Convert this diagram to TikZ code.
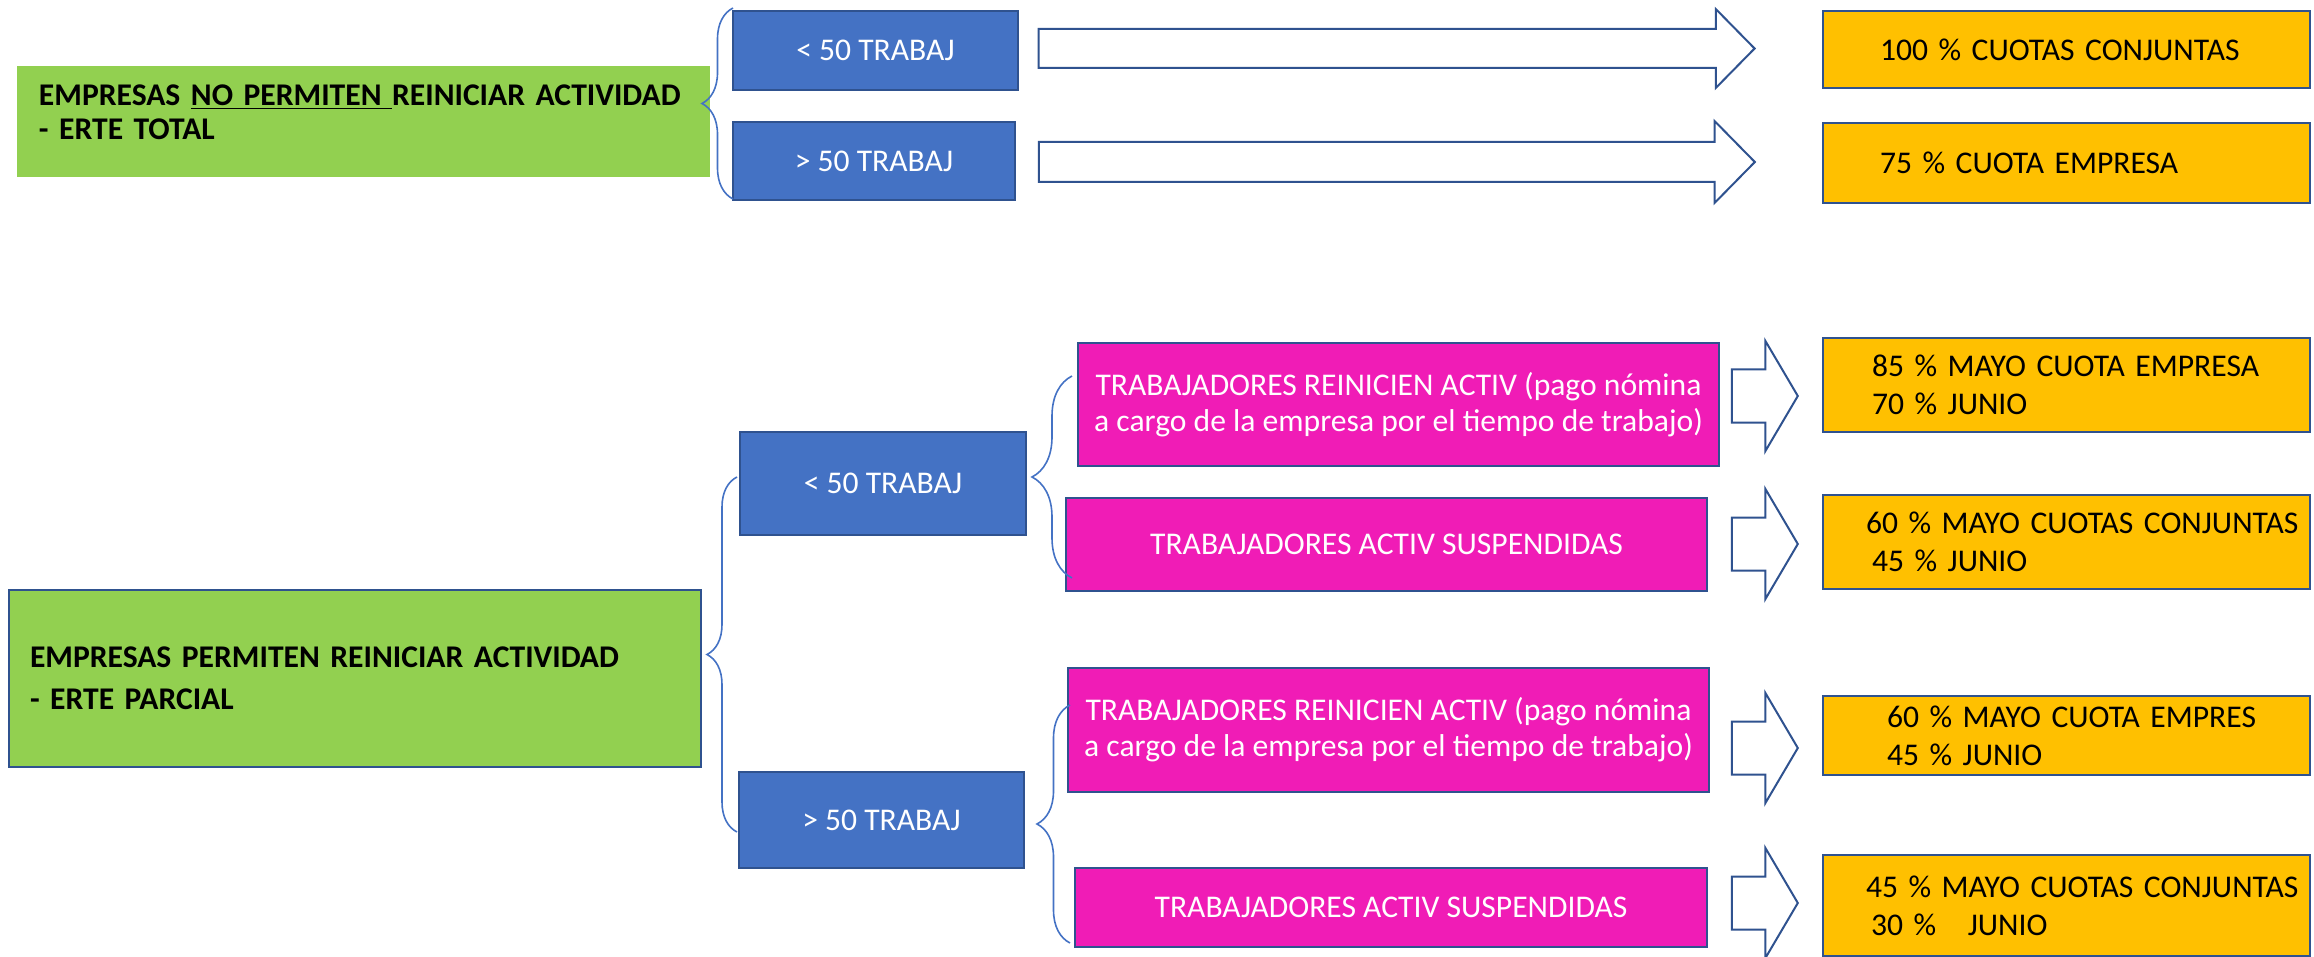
\documentclass[tikz,border=0pt]{standalone}
\usepackage{fontspec}
\setmainfont{Carlito}
\usetikzlibrary{shapes, arrows.meta, decorations.pathreplacing, positioning}
\definecolor{verde}{HTML}{92D050}
\definecolor{azul}{HTML}{4472C4}
\definecolor{borde}{HTML}{2F528F}
\definecolor{rosa}{HTML}{F01CB6}
\definecolor{naranja}{HTML}{FFC000}
\tikzstyle{empresa} = [rectangle, fill=verde, align=left, inner ysep=0pt, text=black, font=\fontsize{15.8}{17}\selectfont\bfseries]
\tikzstyle{grupo} = [rectangle, fill=azul, draw=borde, line width=1.3pt, text=white, align=center, font=\fontsize{15.8}{19}\selectfont]
\tikzstyle{trab} = [rectangle, fill=rosa, draw=borde, line width=1.3pt, text=white, align=center, font=\fontsize{15.8}{18}\selectfont]
\tikzstyle{cuota} = [rectangle, fill=naranja, draw=borde, line width=1.3pt, minimum width=243.5pt, text width=243.5pt, inner xsep=0pt, align=left, text=black, font=\fontsize{15.8}{19}\selectfont]
\tikzstyle{flecha} = [single arrow, draw=borde, fill=white, line width=1pt, inner xsep=0pt, single arrow head indent=0pt]
\tikzstyle{llave} = [draw=azul, line width=0.8pt, decorate]

\begin{document}
\begin{tikzpicture}[x=0.5pt, y=-0.5pt]
\useasboundingbox (0,0) rectangle (2314,957);
% ERTE total
\node (emp1) [empresa, minimum width=346.5pt, minimum height=55.5pt, inner xsep=11pt, text width=324.5pt, text depth=26pt] at (363.5,121.5) {EMPRESAS \underline{NO PERMITEN\ }REINICIAR ACTIVIDAD\\ - ERTE TOTAL};
\node (g1) [grupo, minimum width=142.5pt, minimum height=39.5pt] at (875.5,50.5) {< 50 TRABAJ};
\node (g2) [grupo, minimum width=141pt, minimum height=39pt] at (874,161) {> 50 TRABAJ};
\node (c1) [cuota, minimum height=38.5pt] at (2066.5,49.5) {\hspace*{28.5pt}100 \% CUOTAS CONJUNTAS};
\node (c2) [cuota, minimum height=40pt] at (2066.5,163) {\hspace*{28.5pt}75 \% CUOTA EMPRESA};
\node (f1) [flecha, minimum height=358pt, inner ysep=9.25pt, single arrow head extend=10pt, single arrow tip angle=91] at (1387,48.5) {};
\node (f2) [flecha, minimum height=358pt, inner ysep=9.5pt, single arrow head extend=10.5pt, single arrow tip angle=91] at (1387,162) {};

% ERTE parcial
\node (emp2) [empresa, draw=borde, line width=1.3pt, minimum width=346pt, minimum height=88.5pt, inner xsep=10.5pt, text width=325pt, font=\fontsize{15.8}{21}\selectfont\bfseries] at (355,678.5) {EMPRESAS PERMITEN REINICIAR ACTIVIDAD\\ - ERTE PARCIAL};
\node (g3) [grupo, minimum width=143pt, minimum height=51.5pt] at (883,483.5) {< 50 TRABAJ};
\node (g4) [grupo, minimum width=142.5pt, minimum height=48pt] at (881.5,820) {> 50 TRABAJ};
\node (t1) [trab, minimum width=320.5pt, minimum height=61.5pt] at (1398.5,404.5) {TRABAJADORES REINICIEN ACTIV (pago nómina\\ a cargo de la empresa por el tiempo de trabajo)};
\node (t2) [trab, minimum width=320.5pt, minimum height=46.5pt] at (1386.5,544.5) {TRABAJADORES ACTIV SUSPENDIDAS};
\node (t3) [trab, minimum width=320.5pt, minimum height=62pt] at (1388.5,730) {TRABAJADORES REINICIEN ACTIV (pago nómina\\ a cargo de la empresa por el tiempo de trabajo)};
\node (t4) [trab, minimum width=316pt, minimum height=39.5pt] at (1391,907.5) {TRABAJADORES ACTIV SUSPENDIDAS};
\node (c3) [cuota, minimum height=47pt] at (2066.5,385) {\hspace*{24.5pt}85 \% MAYO CUOTA EMPRESA\\ \hspace*{24.5pt}70 \% JUNIO};
\node (c4) [cuota, minimum height=47pt] at (2066.5,542) {\hspace*{21.5pt}60 \% MAYO CUOTAS CONJUNTAS\\ \hspace*{24.5pt}45 \% JUNIO};
\node (c5) [cuota, minimum height=39.5pt] at (2066.5,735.5) {\hspace*{32pt}60 \% MAYO CUOTA EMPRES\\ \hspace*{32pt}45 \% JUNIO};
\node (c6) [cuota, minimum height=50.5pt] at (2066.5,905.5) {\hspace*{21.5pt}45 \% MAYO CUOTAS CONJUNTAS\\ \hspace*{24pt}30 \%\ \ \ JUNIO};
\node (f3) [flecha, minimum height=33pt, inner ysep=12.75pt, single arrow head extend=14.25pt, single arrow tip angle=119] at (1757,396) {};
\node (f4) [flecha, minimum height=33pt, inner ysep=12.75pt, single arrow head extend=14.25pt, single arrow tip angle=119] at (1757,544) {};
\node (f5) [flecha, minimum height=33pt, inner ysep=12.75pt, single arrow head extend=14.25pt, single arrow tip angle=119] at (1757,748) {};
\node (f6) [flecha, minimum height=33pt, inner ysep=12.75pt, single arrow head extend=14.25pt, single arrow tip angle=119] at (1757,903) {};

% llaves
\coordinate (l1a) at (733,199);
\coordinate (l1b) at (733,8);
\coordinate (l2a) at (737,832);
\coordinate (l2b) at (737,477);
\coordinate (l3a) at (1072,578);
\coordinate (l3b) at (1072,376);
\coordinate (l4a) at (1070,943);
\coordinate (l4b) at (1070,705);
\draw[llave, decoration={brace, amplitude=15.5pt}] (l1a) -- (l1b);
\draw[llave, decoration={brace, amplitude=15pt}] (l2a) -- (l2b);
\draw[llave, decoration={brace, amplitude=20pt}] (l3a) -- (l3b);
\draw[llave, decoration={brace, amplitude=16.5pt}] (l4a) -- (l4b);
\end{tikzpicture}
\end{document}
